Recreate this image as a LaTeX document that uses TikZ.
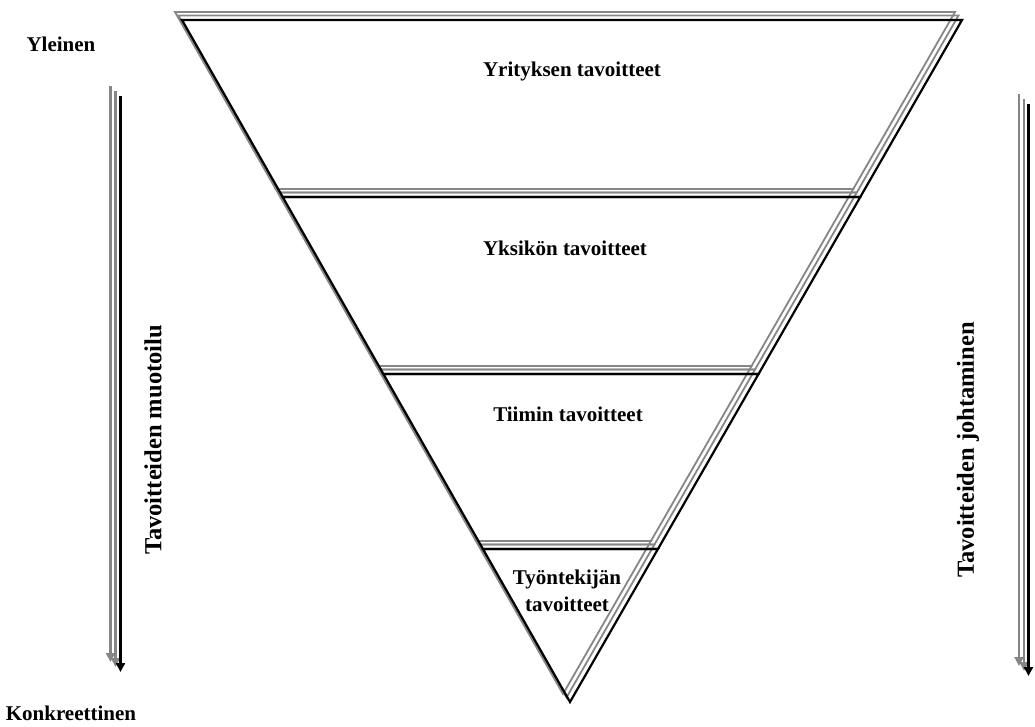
\documentclass[tikz,border=0pt]{standalone}
\usepackage{fontspec}
\setmainfont{Liberation Serif}
\usetikzlibrary{calc,arrows.meta}
\tikzset{
  blackline/.style={draw=black,line width=2.2pt,line join=miter},
  grayline/.style={draw=gray!95,line width=1.8pt,line join=miter},
  lbl/.style={font=\fontsize{21}{27}\selectfont\bfseries,inner sep=0pt,align=center},
  vlbl/.style={font=\fontsize{24.5}{27}\selectfont\bfseries,inner sep=0pt,rotate=90},
  arrblack/.style={draw=black,line width=2.8pt,-{Triangle[length=9pt,width=9pt]}},
  arrgray/.style={draw=gray!95,line width=2.8pt,-{Triangle[length=9pt,width=9pt]}}
}
\begin{document}
\begin{tikzpicture}[x=1pt,y=-1pt]
\useasboundingbox (0,0) rectangle (1035,726);
\coordinate (A) at (182,20);
\coordinate (B) at (962,20);
\coordinate (C) at (570,702);
\coordinate (L1) at ($(A)!0.2595!(C)$);
\coordinate (R1) at ($(B)!0.2595!(C)$);
\coordinate (L2) at ($(A)!0.519!(C)$);
\coordinate (R2) at ($(B)!0.519!(C)$);
\coordinate (L3) at ($(A)!0.7757!(C)$);
\coordinate (R3) at ($(B)!0.7757!(C)$);
\foreach \dx/\dy in {-7/-8,-3.5/-4.5}{
  \draw[grayline] ($(A)+(\dx,\dy)$) -- ($(B)+(\dx,\dy)$) -- ($(R1)+(\dx,\dy)$) -- ($(L1)+(\dx,\dy)$) -- cycle;
  \draw[grayline] ($(L1)+(\dx,\dy)$) -- ($(R1)+(\dx,\dy)$) -- ($(R2)+(\dx,\dy)$) -- ($(L2)+(\dx,\dy)$) -- cycle;
  \draw[grayline] ($(L2)+(\dx,\dy)$) -- ($(R2)+(\dx,\dy)$) -- ($(R3)+(\dx,\dy)$) -- ($(L3)+(\dx,\dy)$) -- cycle;
  \draw[grayline] ($(L3)+(\dx,\dy)$) -- ($(R3)+(\dx,\dy)$) -- ($(C)+(\dx,\dy)$) -- cycle;
}
\draw[blackline] (A) -- (B) -- (R1) -- (L1) -- cycle;
\draw[blackline] (L1) -- (R1) -- (R2) -- (L2) -- cycle;
\draw[blackline] (L2) -- (R2) -- (R3) -- (L3) -- cycle;
\draw[blackline] (L3) -- (R3) -- (C) -- cycle;
% left arrows
\coordinate (la1s) at (110.5,86);  \coordinate (la1e) at (110.5,662);
\coordinate (la2s) at (115.5,91);  \coordinate (la2e) at (115.5,667);
\coordinate (la3s) at (120.5,96);  \coordinate (la3e) at (120.5,672);
\draw[arrgray] (la1s) -- (la1e);
\draw[arrgray] (la2s) -- (la2e);
\draw[arrblack] (la3s) -- (la3e);
% right arrows
\coordinate (ra1s) at (1019,94);  \coordinate (ra1e) at (1019,666);
\coordinate (ra2s) at (1024,99);  \coordinate (ra2e) at (1024,671);
\coordinate (ra3s) at (1028.5,104);  \coordinate (ra3e) at (1028.5,676);
\draw[arrgray] (ra1s) -- (ra1e);
\draw[arrgray] (ra2s) -- (ra2e);
\draw[arrblack] (ra3s) -- (ra3e);
% labels
\node[lbl] (yleinen) at (61,44) {Yleinen};
\node[lbl] (konkr) at (71,713) {Konkreettinen};
\node[lbl] (yritys) at (572,71) {Yrityksen tavoitteet};
\node[lbl] (yksikko) at (565,248) {Yksikön tavoitteet};
\node[lbl] (tiimi) at (568,414) {Tiimin tavoitteet};
\node[lbl] (tyontekija) at (567,591) {Työntekijän\\tavoitteet};
\node[vlbl] (muotoilu) at (153,440) {Tavoitteiden muotoilu};
\node[vlbl] (johtaminen) at (968,450) {Tavoitteiden johtaminen};
\end{tikzpicture}
\end{document}
